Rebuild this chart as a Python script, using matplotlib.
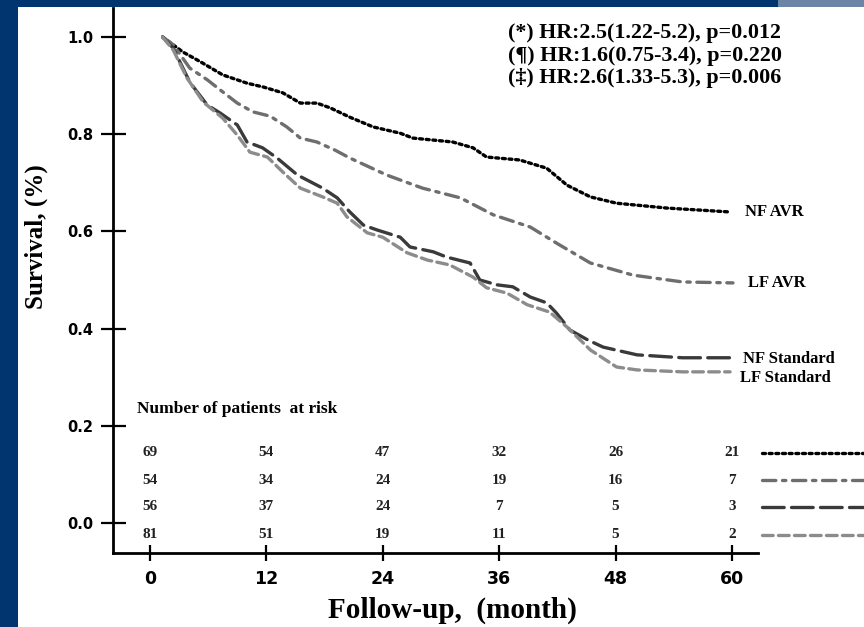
import matplotlib
matplotlib.use("Agg")
from matplotlib import pyplot as plt
from matplotlib.patches import Rectangle

# tiempo (meses) y supervivencia
t_nf_avr = [1.3, 3.4, 5.2, 7.5, 10.0, 11.7, 13.7, 15.5, 17.2, 18.6, 20.6, 23.0, 25.8, 27.1,
            31.2, 33.3, 34.7, 38.1, 40.9, 43.0, 45.4, 48.1, 53.3, 59.8]
s_nf_avr = [1.0, 0.969, 0.949, 0.922, 0.905, 0.897, 0.885, 0.864, 0.864, 0.854, 0.835, 0.815,
            0.802, 0.792, 0.784, 0.772, 0.753, 0.747, 0.730, 0.695, 0.671, 0.658, 0.648, 0.640]

t_lf_avr = [1.3, 2.4, 4.1, 5.9, 7.5, 9.0, 10.6, 12.4, 14.1, 15.5, 17.2, 19.1, 20.6, 24.4,
            28.1, 32.0, 35.4, 39.2, 41.9, 45.4, 49.8, 54.9, 60.1]
s_lf_avr = [1.0, 0.984, 0.936, 0.912, 0.887, 0.864, 0.846, 0.837, 0.815, 0.792, 0.784, 0.767,
            0.751, 0.716, 0.689, 0.669, 0.634, 0.609, 0.576, 0.535, 0.510, 0.496, 0.494]

t_nf_std = [1.3, 2.4, 4.1, 5.9, 7.2, 9.0, 10.0, 11.6, 13.1, 15.2, 17.8, 19.3, 20.6, 22.0,
            23.4, 25.8, 26.8, 29.2, 30.6, 33.0, 34.0, 35.8, 37.4, 39.2, 40.9, 41.9, 43.3,
            45.1, 46.7, 50.2, 54.9, 59.8]
s_nf_std = [1.0, 0.977, 0.907, 0.860, 0.844, 0.819, 0.784, 0.772, 0.751, 0.716, 0.689, 0.669,
            0.640, 0.613, 0.603, 0.588, 0.568, 0.558, 0.547, 0.535, 0.500, 0.490, 0.486,
            0.465, 0.453, 0.432, 0.397, 0.377, 0.362, 0.346, 0.340, 0.340]

t_lf_std = [1.3, 2.4, 3.8, 5.5, 7.5, 9.0, 10.3, 12.1, 13.7, 15.5, 17.8, 19.3, 20.3, 22.4,
            24.0, 26.5, 28.6, 30.9, 33.3, 34.7, 36.8, 38.9, 41.2, 43.0, 45.4, 48.1, 50.2,
            54.9, 59.8]
s_lf_std = [1.0, 0.973, 0.916, 0.866, 0.833, 0.798, 0.763, 0.753, 0.722, 0.689, 0.671, 0.658,
            0.630, 0.597, 0.588, 0.556, 0.541, 0.531, 0.506, 0.484, 0.473, 0.449, 0.434,
            0.403, 0.356, 0.321, 0.315, 0.311, 0.311]

grupos = ['NF AVR', 'LF AVR', 'NF Standard', 'LF Standard']
meses_riesgo = [0, 12, 24, 36, 48, 60]
riesgo_nf_avr = [69, 54, 47, 32, 26, 21]
riesgo_lf_avr = [54, 34, 24, 19, 16, 7]
riesgo_nf_std = [56, 37, 24, 7, 5, 3]
riesgo_lf_std = [81, 51, 19, 11, 5, 2]

hr_textos = ['(*) HR:2.5(1.22-5.2), p=0.012',
             '(\u00b6) HR:1.6(0.75-3.4), p=0.220',
             '(\u2021) HR:2.6(1.33-5.3), p=0.006']

y_ticks = [0.0, 0.2, 0.4, 0.6, 0.8, 1.0]

W, H = 864, 627
SERIF = ['Liberation Serif', 'DejaVu Serif']


def px(x, y):
    # pixel de imagen -> coordenadas de figura
    return x / W, 1 - y / H


def fondo(fig):
    fig.patch.set_facecolor('#00356f')
    fig.patches.append(Rectangle((18 / W, 0), 1, 1 - 7 / H, transform=fig.transFigure,
                                 facecolor='white', edgecolor='none', zorder=-5))
    fig.patches.append(Rectangle((778 / W, 1 - 7 / H), 1, 7 / H, transform=fig.transFigure,
                                 facecolor='#6c84a5', edgecolor='none', zorder=-5))


def main():
    fig = plt.figure(figsize=(8.64, 6.27), dpi=100)
    fondo(fig)

    x0, y0 = px(113, 553)
    x1, y1 = px(864, 8)
    ax = fig.add_axes([x0, y0, x1 - x0, y1 - y0])
    ax.patch.set_alpha(0)
    ax.set_xlim((113 - 150) / 9.7, (864 - 150) / 9.7)
    ax.set_ylim((523 - 553) / 486, (523 - 8) / 486)

    estilos = [
        dict(color='black', ls=(0, (0.9, 1.1))),
        dict(color='#6e6e6e', ls=(0, (4, 2, 1, 2))),
        dict(color='#3a3a3a', ls=(0, (6.5, 2.2))),
        dict(color='#8c8c8c', ls=(0, (3.2, 1.6))),
    ]
    series = [(t_nf_avr, s_nf_avr), (t_lf_avr, s_lf_avr),
              (t_nf_std, s_nf_std), (t_lf_std, s_lf_std)]
    for (t, s), est in zip(series, estilos):
        ax.plot(t, s, lw=2.4, dash_capstyle='round', **est)

    # etiquetas al final de cada curva
    pos_etq = [(61.3, 0.640), (61.6, 0.494), (61.1, 0.337), (60.8, 0.298)]
    for nombre, (xe, ye) in zip(grupos, pos_etq):
        ax.text(xe, ye, nombre, ha='left', va='center', fontsize=12,
                fontweight='bold', family=SERIF)

    # ejes
    for lado in ['top', 'right']:
        ax.spines[lado].set_visible(False)
    ax.spines['left'].set_linewidth(2)
    ax.spines['bottom'].set_linewidth(2)
    ax.spines['bottom'].set_bounds(ax.get_xlim()[0], (758 - 150) / 9.7)

    ax.set_yticks(y_ticks)
    ax.set_yticklabels(['%.1f' % v for v in y_ticks])
    ax.set_xticks(meses_riesgo)
    ax.set_xticklabels([str(m) for m in meses_riesgo])
    ax.tick_params(axis='y', direction='inout', length=18, width=1.6, pad=5,
                   labelsize=10.5)
    ax.tick_params(axis='x', direction='inout', length=12, width=1.6, pad=6,
                   labelsize=12.5)
    for lab in ax.get_xticklabels() + ax.get_yticklabels():
        lab.set_fontweight('bold')
        lab.set_family('DejaVu Sans')

    # tabla de pacientes en riesgo
    fig.text(*px(137, 409), 'Number of patients  at risk', ha='left', va='center',
             fontsize=12.5, fontweight='bold', family=SERIF)
    filas_y = [(523 - y) / 486 for y in [453, 480, 507, 535]]
    riesgos = [riesgo_nf_avr, riesgo_lf_avr, riesgo_nf_std, riesgo_lf_std]
    for fila, yy, est in zip(riesgos, filas_y, estilos):
        for m, n in zip(meses_riesgo, fila):
            ax.text(m, yy, str(n), ha='center', va='center', fontsize=11,
                    fontweight='bold', family=SERIF, color='#222222')
        ax.plot([(762 - 150) / 9.7, 80], [yy, yy], lw=2.4, dash_capstyle='round', **est)

    # textos HR
    for i, txt in enumerate(hr_textos):
        fig.text(*px(508, 33 + 22.5 * i), txt, ha='left', va='center', fontsize=15.8,
                 fontweight='bold', family=SERIF)

    fig.text(*px(36, 237), 'Survival, (%)', rotation=90, ha='center', va='center',
             fontsize=18, fontweight='bold', family=SERIF)
    fig.text(*px(452, 610), 'Follow-up,  (month)', ha='center', va='center',
             fontsize=21, fontweight='bold', family=SERIF)

    fig.savefig('out.png', dpi=100, facecolor=fig.get_facecolor())


if __name__ == "__main__":
    main()
